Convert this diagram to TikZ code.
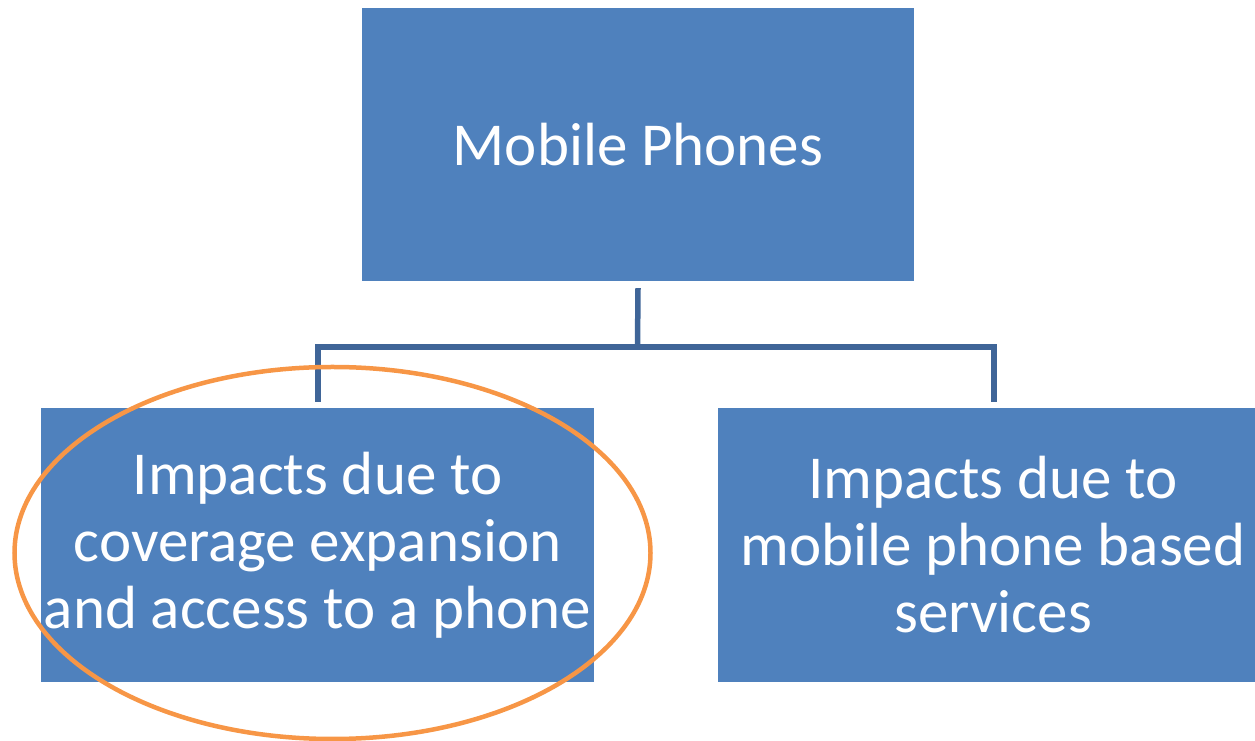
\documentclass[tikz,border=0pt]{standalone}
\usepackage{fontspec}
\setmainfont{Carlito}
\definecolor{boxblue}{HTML}{4F81BD}
\definecolor{linkblue}{HTML}{3F6598}
\definecolor{ringorange}{HTML}{F79646}
\begin{document}
\begin{tikzpicture}[x=1pt,y=1pt,
  blockbox/.style={fill=boxblue,draw=none,inner sep=0pt,text=white,align=center},
  link/.style={draw=linkblue,line width=5.5pt},
  ring/.style={draw=ringorange,line width=4.5pt}]
\useasboundingbox (0,0) rectangle (1255,741);
\node[blockbox,minimum width=552pt,minimum height=273pt,font=\fontsize{61}{67}\selectfont] (top) at (638,596.5) {Mobile Phones};
\node[blockbox,minimum width=553pt,minimum height=274pt,font=\fontsize{61}{67}\selectfont] (left) at (317.5,196) {Impacts due to\\coverage expansion\\and access to a phone};
\node[blockbox,minimum width=550pt,minimum height=274pt,font=\fontsize{61}{67}\selectfont] (right) at (993,196) {Impacts due to\\mobile phone based\\services};
\coordinate (j) at (637.5,394);
\draw[link] ([yshift=-7pt]top.south) -- (j);
\draw[link] (318,339) |- (j) -| (994,339);
\draw[ring] (332.5,188) ellipse [x radius=318, y radius=186];
\end{tikzpicture}
\end{document}
